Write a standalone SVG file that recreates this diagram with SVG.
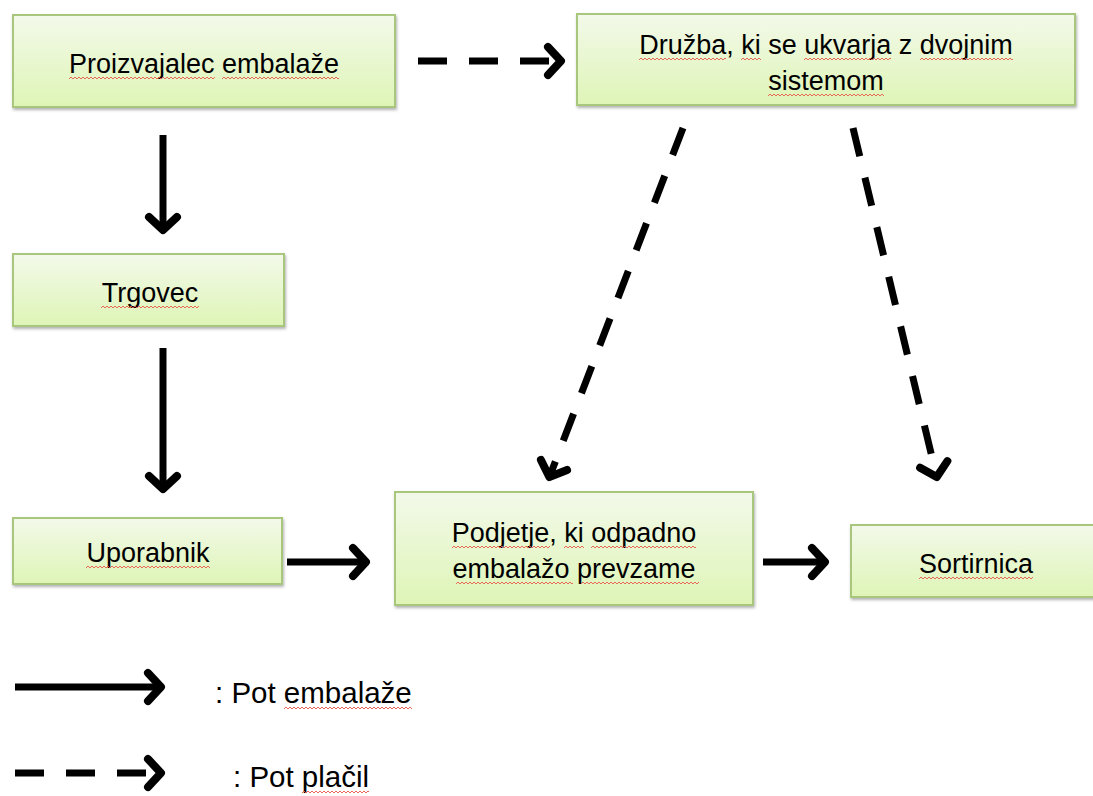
<svg xmlns="http://www.w3.org/2000/svg" width="1093" height="796" viewBox="0 0 1093 796">
<defs>
<linearGradient id="g" x1="0" y1="0" x2="0" y2="1">
<stop offset="0" stop-color="#f3f9ea"/>
<stop offset="1" stop-color="#def5b6"/>
</linearGradient>
<filter id="sh" x="-5%" y="-10%" width="110%" height="130%">
<feDropShadow dx="1" dy="2" stdDeviation="1.5" flood-color="#000" flood-opacity="0.3"/>
</filter>
<pattern id="wv" patternUnits="userSpaceOnUse" width="4" height="4">
<path d="M0,3 L2,1 L4,3" fill="none" stroke="#e8584a" stroke-width="0.9"/>
</pattern>
<marker id="ah" markerUnits="userSpaceOnUse" viewBox="-20 -20 24 40" refX="0" refY="0" markerWidth="24" markerHeight="40" orient="auto" overflow="visible">
<path d="M-14,-14 L-1,0 L-14,14" fill="none" stroke="#000" stroke-width="8" stroke-linecap="round" stroke-linejoin="round"/>
</marker>
</defs>
<style>
.box{fill:url(#g);stroke:#a8c77c;stroke-width:2;filter:url(#sh)}
.t{font-family:"Liberation Sans",Arial,sans-serif;font-size:27px;fill:#000;text-anchor:middle}
.lg{font-family:"Liberation Sans",Arial,sans-serif;font-size:29.5px;fill:#000}
.w{fill:url(#wv)}
.s{fill:none;stroke:#000;stroke-width:7;marker-end:url(#ah)}
.d{fill:none;stroke:#000;stroke-width:7;stroke-dasharray:29 22;marker-end:url(#ah)}
</style>
<rect width="1093" height="796" fill="#fff"/>
<g id="n1"><rect class="box" x="13" y="15" width="382" height="92"/><text class="t" x="204" y="73">Proizvajalec embalaže</text>
<rect class="w" transform="translate(69,76)" width="146" height="4"/><rect class="w" transform="translate(222,76)" width="117" height="4"/></g>
<g id="n2"><rect class="box" x="577" y="14" width="498" height="91"/><text class="t" x="826" y="54">Družba, ki se ukvarja z dvojnim</text><text class="t" x="826" y="90">sistemom</text>
<rect class="w" transform="translate(639,57)" width="87" height="4"/><rect class="w" transform="translate(741,57)" width="20" height="4"/><rect class="w" transform="translate(804,57)" width="87" height="4"/><rect class="w" transform="translate(920,57)" width="93" height="4"/><rect class="w" transform="translate(768,93)" width="116" height="4"/></g>
<g id="n3"><rect class="box" x="13" y="254" width="271" height="72"/><text class="t" x="150" y="302">Trgovec</text>
<rect class="w" transform="translate(101,305)" width="98" height="4"/></g>
<g id="n4"><rect class="box" x="13" y="518" width="269" height="66"/><text class="t" x="148" y="562">Uporabnik</text>
<rect class="w" transform="translate(86,565)" width="124" height="4"/></g>
<g id="n5"><rect class="box" x="395" y="492" width="358" height="113"/><text class="t" x="574" y="542">Podjetje, ki odpadno</text><text class="t" x="574" y="578">embalažo prevzame</text>
<rect class="w" transform="translate(452,545)" width="98" height="4"/><rect class="w" transform="translate(564,545)" width="20" height="4"/><rect class="w" transform="translate(591,545)" width="105" height="4"/><rect class="w" transform="translate(456,581)" width="117" height="4"/><rect class="w" transform="translate(581,581)" width="118" height="4"/></g>
<g id="n6"><rect class="box" x="851" y="525" width="250" height="72"/><text class="t" x="976" y="573">Sortirnica</text>
<rect class="w" transform="translate(919,576)" width="114" height="4"/></g>
<g id="connectors">
<path class="d" d="M418,61 L562,61"/>
<path class="s" d="M163,135 L163,231"/>
<path class="s" d="M163,348 L163,490"/>
<path class="s" d="M287,562 L367,562"/>
<path class="s" d="M763,562 L826,562"/>
<path class="d" d="M683,128 L549,478"/>
<path class="d" d="M853,128 L937,478"/>
</g>
<g id="legend">
<path class="s" d="M15,687 L162,687"/>
<path class="d" d="M15,773 L162,773"/>
<text class="lg" x="215" y="703">: Pot embalaže</text>
<text class="lg" x="233" y="787">: Pot plačil</text>
<rect class="w" transform="translate(284,706)" width="128" height="4"/><rect class="w" transform="translate(302,790)" width="67" height="4"/>
</g>
</svg>
